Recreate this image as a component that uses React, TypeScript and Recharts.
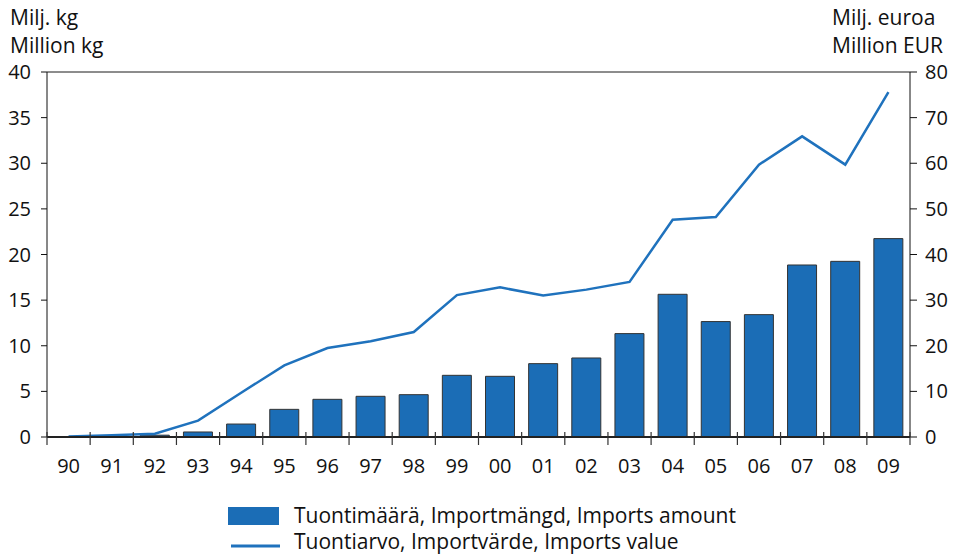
import React from 'react';
import {
  ComposedChart,
  Bar,
  Line,
  XAxis,
  YAxis,
  CartesianGrid,
} from 'recharts';

const years = ['90', '91', '92', '93', '94', '95', '96', '97', '98', '99', '00', '01', '02', '03', '04', '05', '06', '07', '08', '09'];
const importAmount = [0, 0, 0.2, 0.55, 1.42, 3.03, 4.13, 4.46, 4.64, 6.76, 6.65, 8.04, 8.66, 11.33, 15.64, 12.65, 13.41, 18.85, 19.25, 21.74];
const importValue = [0.1, 0.4, 0.7, 3.6, 9.7, 15.7, 19.5, 21.0, 23.0, 31.1, 32.8, 31.0, 32.3, 34.0, 47.6, 48.2, 59.7, 65.9, 59.7, 75.6];
const leftTicks = [0, 5, 10, 15, 20, 25, 30, 35, 40];
const rightTicks = [0, 10, 20, 30, 40, 50, 60, 70, 80];

const data = years.map((year, i) => ({
  year,
  amount: importAmount[i],
  value: importValue[i],
}));

const W = 956;
const H = 554;
const PLOT_LEFT = 47;
const PLOT_RIGHT = 910;
const PLOT_TOP = 72;
const PLOT_BOTTOM = 437;
const BAND = (PLOT_RIGHT - PLOT_LEFT) / years.length;
const FONT = '"Open Sans", sans-serif';
const BLUE = '#1b6db6';

function YearTick(props: any) {
  const { x, y, payload, index } = props;
  return (
    <g>
      <line x1={x - BAND / 2} x2={x - BAND / 2} y1={y - 5} y2={y + 8} stroke="#333" strokeWidth={1.2} />
      {index === years.length - 1 && (
        <line x1={x + BAND / 2} x2={x + BAND / 2} y1={y - 5} y2={y + 8} stroke="#333" strokeWidth={1.2} />
      )}
      <text x={x} y={y + 36} textAnchor="middle" fontSize={20} fontFamily={FONT} fill="#111">
        {payload.value}
      </text>
    </g>
  );
}

export default function App() {
  return (
    <div style={{ position: 'absolute', left: 0, top: 0, width: W, height: H, background: '#fff', fontFamily: FONT }}>
      <ComposedChart
        width={W}
        height={H}
        data={data}
        margin={{ top: PLOT_TOP, right: 0, left: 0, bottom: 0 }}
      >
        <CartesianGrid vertical={false} stroke="#1a1a1a" strokeWidth={1} />
        <XAxis
          dataKey="year"
          height={H - PLOT_BOTTOM}
          tickLine={false}
          tickSize={0}
          tickMargin={0}
          axisLine={{ stroke: '#222', strokeWidth: 2 }}
          tick={<YearTick />}
          interval={0}
        />
        <YAxis
          yAxisId="left"
          width={PLOT_LEFT}
          domain={[0, 40]}
          ticks={leftTicks}
          tickSize={6}
          tickMargin={10}
          axisLine={{ stroke: '#111' }}
          tickLine={{ stroke: '#111' }}
          tick={{ fill: '#111', fontSize: 20, fontFamily: FONT }}
          interval={0}
        />
        <YAxis
          yAxisId="right"
          orientation="right"
          width={W - PLOT_RIGHT}
          domain={[0, 80]}
          ticks={rightTicks}
          tickSize={7}
          tickMargin={8}
          axisLine={{ stroke: '#111' }}
          tickLine={{ stroke: '#111' }}
          tick={{ fill: '#111', fontSize: 20, fontFamily: FONT, textAnchor: 'start' }}
          interval={0}
        />
        <Bar
          yAxisId="left"
          dataKey="amount"
          name="Tuontimäärä, Importmängd, Imports amount"
          fill={BLUE}
          stroke="#333"
          strokeWidth={1}
          barSize={29}
          isAnimationActive={false}
        />
        <Line
          yAxisId="right"
          dataKey="value"
          name="Tuontiarvo, Importvärde, Imports value"
          type="linear"
          stroke="#1f72bd"
          strokeWidth={2.5}
          dot={false}
          isAnimationActive={false}
        />
        <text x={10} y={25} fontSize={21} fontFamily={FONT} fill="#111">Milj. kg</text>
        <text x={10} y={53} fontSize={21} fontFamily={FONT} fill="#111">Million kg</text>
        <text x={832} y={25} fontSize={21} fontFamily={FONT} fill="#111">Milj. euroa</text>
        <text x={832} y={53} fontSize={21} fontFamily={FONT} fill="#111">Million EUR</text>
        <rect x={228} y={507} width={51} height={18} fill={BLUE} />
        <text x={294} y={523} fontSize={21} fontFamily={FONT} fill="#111">Tuontimäärä, Importmängd, Imports amount</text>
        <line x1={231} x2={280} y1={546} y2={546} stroke="#1f72bd" strokeWidth={3} />
        <text x={294} y={549} fontSize={21} fontFamily={FONT} fill="#111">Tuontiarvo, Importvärde, Imports value</text>
      </ComposedChart>
    </div>
  );
}
